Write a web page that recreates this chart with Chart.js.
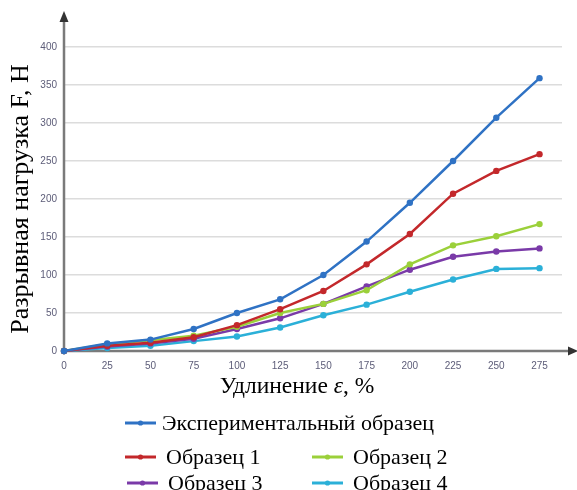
<!DOCTYPE html>
<html>
<head>
<meta charset="utf-8">
<script src="https://cdn.jsdelivr.net/npm/chart.js@4"></script>
<style>
  body { margin: 0; background: #fff; }
</style>
</head>
<body>
<canvas id="loadChart" width="577" height="490"></canvas>
<script>
const strain = [0, 25, 50, 75, 100, 125, 150, 175, 200, 225, 250, 275];
const experimental = [0, 10, 15, 29, 50, 68, 100, 144, 195, 250, 307, 359];
const sample1 = [0, 7, 11, 18, 34, 55, 79, 114, 154, 207, 237, 259];
const sample2 = [0, 9, 14, 20, 32, 50, 62, 80, 114, 139, 151, 167];
const sample3 = [0, 6, 10, 16, 29, 43, 62, 85, 107, 124, 131, 135];
const sample4 = [0, 4, 7, 13, 19, 31, 47, 61, 78, 94, 108, 109];
const seriesNames = ["Экспериментальный образец", "Образец 1", "Образец 2", "Образец 3", "Образец 4"];
const seriesColors = ["#2f72c4", "#c3282b", "#9bd03a", "#7a3aa8", "#2bb0d8"];
const yTicks = [0, 50, 100, 150, 200, 250, 300, 350, 400];

const allSeries = [experimental, sample1, sample2, sample3, sample4];

const datasets = allSeries.map((vals, i) => ({
    label: seriesNames[i],
    data: strain.map((x, k) => ({x: x, y: vals[k]})),
    borderColor: seriesColors[i],
    backgroundColor: seriesColors[i],
    borderWidth: 2.5,
    pointRadius: 3.2,
    pointBorderWidth: 0,
    tension: 0,
    clip: false
}));
// draw experimental on top
datasets[0].order = -1;

const serif = "'Liberation Serif', 'DejaVu Serif', serif";

// axis lines with arrows + x title + legend
const decorPlugin = {
    id: "decor",
    beforeDatasetsDraw(chart) {
        const ctx = chart.ctx;
        const a = chart.chartArea;
        ctx.save();
        ctx.strokeStyle = "#7a7a7a";
        ctx.fillStyle = "#333";
        ctx.lineWidth = 2.5;
        ctx.beginPath();
        ctx.moveTo(a.left, a.bottom);
        ctx.lineTo(a.left, 20);
        ctx.moveTo(a.left, a.bottom);
        ctx.lineTo(571, a.bottom);
        ctx.stroke();
        ctx.beginPath();
        ctx.moveTo(a.left, 11);
        ctx.lineTo(a.left - 4.5, 22);
        ctx.lineTo(a.left + 4.5, 22);
        ctx.closePath();
        ctx.fill();
        ctx.beginPath();
        ctx.moveTo(578, a.bottom);
        ctx.lineTo(568, a.bottom - 4.5);
        ctx.lineTo(568, a.bottom + 4.5);
        ctx.closePath();
        ctx.fill();
        ctx.restore();
    },
    afterDraw(chart) {
        const ctx = chart.ctx;
        ctx.save();
        // x axis title with italic epsilon
        const parts = [
            {t: "Удлинение ", f: "23.5px " + serif},
            {t: "ε", f: "italic 23.5px " + serif},
            {t: ", %", f: "23.5px " + serif}
        ];
        let total = 0;
        parts.forEach(p => { ctx.font = p.f; p.w = ctx.measureText(p.t).width; total += p.w; });
        let x = 297 - total / 2;
        ctx.fillStyle = "#000";
        ctx.textBaseline = "middle";
        parts.forEach(p => { ctx.font = p.f; ctx.fillText(p.t, x, 387); x += p.w; });

        // legend
        const items = [
            {i: 0, x: 125, y: 423},
            {i: 1, x: 125, y: 457},
            {i: 2, x: 312, y: 457},
            {i: 3, x: 127, y: 483},
            {i: 4, x: 312, y: 483}
        ];
        ctx.font = "22px " + serif;
        items.forEach(it => {
            const c = seriesColors[it.i];
            ctx.strokeStyle = c;
            ctx.fillStyle = c;
            ctx.lineWidth = 3;
            ctx.beginPath();
            ctx.moveTo(it.x, it.y);
            ctx.lineTo(it.x + 31, it.y);
            ctx.stroke();
            ctx.beginPath();
            ctx.arc(it.x + 15.5, it.y, 2.6, 0, Math.PI * 2);
            ctx.fill();
            ctx.fillStyle = "#000";
            ctx.fillText(seriesNames[it.i], it.x + (it.i === 0 ? 37 : 41), it.y + 1);
        });
        ctx.restore();
    }
};

new Chart(document.getElementById("loadChart"), {
    type: "line",
    data: {datasets: datasets},
    options: {
        responsive: false,
        animation: false,
        layout: {padding: {top: 47, right: 15, bottom: 109, left: 0}},
        plugins: {legend: {display: false}, tooltip: {enabled: false}},
        scales: {
            x: {
                type: "linear",
                min: 0,
                max: 288,
                afterBuildTicks: s => { s.ticks = strain.map(v => ({value: v})); },
                afterFit: s => { s.height = 30; },
                grid: {display: false, drawTicks: false},
                border: {display: false},
                ticks: {
                    padding: 9,
                    maxRotation: 0,
                    color: "#5c5c78",
                    font: {family: "'Liberation Sans', sans-serif", size: 10}
                }
            },
            y: {
                min: 0,
                max: 400,
                afterBuildTicks: s => { s.ticks = yTicks.map(v => ({value: v})); },
                afterFit: s => { s.width = 64; },
                grid: {color: "#dcdcdc", lineWidth: 1.6, drawTicks: false},
                border: {display: false},
                ticks: {
                    padding: 7,
                    color: "#5c5c78",
                    font: {family: "'Liberation Sans', sans-serif", size: 10}
                },
                title: {
                    display: true,
                    text: "Разрывная нагрузка F, Н",
                    color: "#000",
                    padding: {top: 6, bottom: 0},
                    font: {family: serif, size: 26}
                }
            }
        }
    },
    plugins: [decorPlugin]
});
</script>
</body>
</html>
